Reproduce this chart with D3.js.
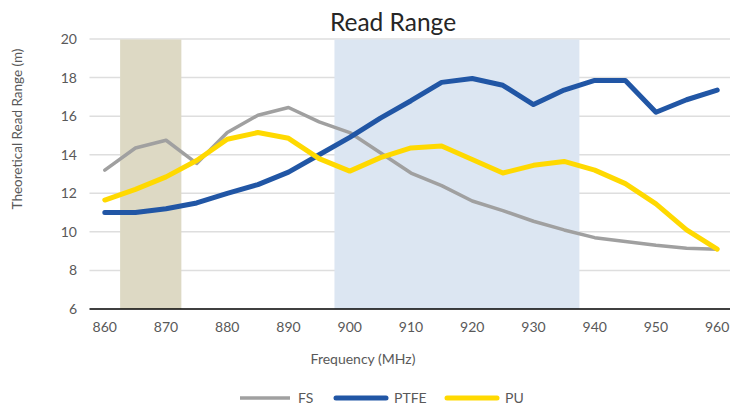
<!DOCTYPE html>
<html>
<head>
<meta charset="utf-8">
<script src="https://cdn.jsdelivr.net/npm/d3@7"></script>
<style>
  body { margin: 0; background: #fff; }
  svg { display: block; font-family: Lato, "Open Sans", sans-serif; }
</style>
</head>
<body>
<div id="chart"></div>
<script>
// frequencies (MHz)
var freqs = [860, 865, 870, 875, 880, 885, 890, 895, 900, 905, 910,
    915, 920, 925, 930, 935, 940, 945, 950, 955, 960];

// theoretical read range (m)
var fsValues = [13.2, 14.35, 14.75, 13.55, 15.15, 16.05, 16.45, 15.7, 15.15, 14.1, 13.05,
    12.4, 11.6, 11.1, 10.55, 10.1, 9.7, 9.5, 9.3, 9.15, 9.1];
var ptfeValues = [11.0, 11.0, 11.2, 11.5, 12.0, 12.45, 13.1, 14.0, 14.9, 15.9, 16.8,
    17.75, 17.95, 17.6, 16.6, 17.35, 17.85, 17.85, 16.2, 16.85, 17.35];
var puValues = [11.65, 12.2, 12.85, 13.7, 14.8, 15.15, 14.85, 13.8, 13.15, 13.85, 14.35,
    14.45, 13.75, 13.05, 13.45, 13.65, 13.2, 12.5, 11.45, 10.1, 9.1];

var seriesNames = ["FS", "PTFE", "PU"];

// shaded frequency bands (MHz)
var bandStart = [862.5, 897.5];
var bandEnd = [872.5, 937.5];

var xTicks = [860, 870, 880, 890, 900, 910, 920, 930, 940, 950, 960];
var yTicks = [6, 8, 10, 12, 14, 16, 18, 20];

var width = 730, height = 406;

var lineColor = { "FS": "#a0a0a0", "PTFE": "#2156a5", "PU": "#ffd900" };
var lineWidth = { "FS": 3.5, "PTFE": 5, "PU": 5 };
var bandColor = ["#ddd9c4", "#dce6f2"];

var svg = d3.select("#chart")
    .append("svg")
    .attr("width", width)
    .attr("height", height);

var x = d3.scaleLinear()
    .domain([857.5, 962.5])
    .range([89.5, 732.5]);

var y = d3.scaleLinear()
    .domain([6, 20])
    .range([309, 39]);

// gridlines
svg.append("g")
    .attr("class", "grid")
    .selectAll("line")
    .data(yTicks.filter(function (d) { return d > 6; }))
    .enter().append("line")
    .attr("x1", x(857.5))
    .attr("x2", x(962.5))
    .attr("y1", function (d) { return y(d); })
    .attr("y2", function (d) { return y(d); })
    .style("stroke", "#dedede")
    .style("stroke-width", 1.5);

// bands
svg.append("g")
    .attr("class", "bands")
    .selectAll("rect")
    .data(bandStart)
    .enter().append("rect")
    .attr("x", function (d) { return x(d); })
    .attr("width", function (d, i) { return x(bandEnd[i]) - x(d); })
    .attr("y", y(20) + 0.5)
    .attr("height", y(6) - y(20) - 0.5)
    .style("fill", function (d, i) { return bandColor[i]; });

// bottom axis line
svg.append("line")
    .attr("x1", x(857.5))
    .attr("x2", x(962.5))
    .attr("y1", y(6))
    .attr("y2", y(6))
    .style("stroke", "#000")
    .style("stroke-width", 1.5);

// tick labels
svg.append("g")
    .selectAll("text")
    .data(yTicks)
    .enter().append("text")
    .attr("x", 77)
    .attr("y", function (d) { return y(d) + 5; })
    .attr("text-anchor", "end")
    .style("font-size", "14px")
    .style("fill", "#595959")
    .text(function (d) { return d; });

svg.append("g")
    .selectAll("text")
    .data(xTicks)
    .enter().append("text")
    .attr("x", function (d) { return x(d); })
    .attr("y", 332)
    .attr("text-anchor", "middle")
    .style("font-size", "14px")
    .style("fill", "#595959")
    .text(function (d) { return d; });

// lines
var line = d3.line()
    .x(function (d, i) { return x(freqs[i]); })
    .y(function (d) { return y(d); });

var allSeries = [fsValues, ptfeValues, puValues];

svg.append("g")
    .attr("class", "lines")
    .selectAll("path")
    .data(allSeries)
    .enter().append("path")
    .attr("d", line)
    .style("fill", "none")
    .style("stroke", function (d, i) { return lineColor[seriesNames[i]]; })
    .style("stroke-width", function (d, i) { return lineWidth[seriesNames[i]]; })
    .style("stroke-linejoin", "round")
    .style("stroke-linecap", "round");

// titles
svg.append("text")
    .attr("x", 393)
    .attr("y", 31)
    .attr("text-anchor", "middle")
    .style("font-size", "24.5px")
    .style("fill", "#262626")
    .text("Read Range");

svg.append("text")
    .attr("x", 363)
    .attr("y", 364)
    .attr("text-anchor", "middle")
    .style("font-size", "14px")
    .style("fill", "#595959")
    .text("Frequency (MHz)");

svg.append("text")
    .attr("transform", "translate(22,129) rotate(-90)")
    .attr("text-anchor", "middle")
    .style("font-size", "13.5px")
    .style("fill", "#595959")
    .text("Theoretical Read Range (m)");

// legend
var legendX = [240, 336, 447];
var legend = svg.append("g")
    .attr("class", "legend")
    .selectAll("g")
    .data(seriesNames)
    .enter().append("g")
    .attr("transform", function (d, i) { return "translate(" + legendX[i] + ",398)"; });

legend.append("line")
    .attr("x1", 0)
    .attr("x2", 50)
    .style("stroke", function (d) { return lineColor[d]; })
    .style("stroke-width", function (d) { return lineWidth[d]; })
    .style("stroke-linecap", function (d) { return d === "FS" ? "butt" : "round"; });

legend.append("text")
    .attr("x", 58)
    .attr("y", 5)
    .style("font-size", "14px")
    .style("fill", "#595959")
    .text(function (d) { return d; });
</script>
</body>
</html>
